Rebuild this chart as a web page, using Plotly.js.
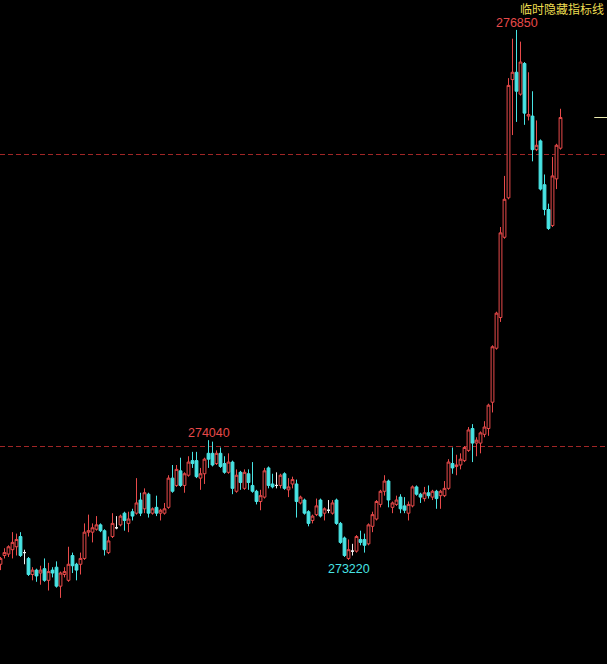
<!DOCTYPE html>
<html><head><meta charset="utf-8">
<script src="https://cdn.plot.ly/plotly-3.0.1.min.js"></script>
<style>html,body{margin:0;padding:0;background:#000;overflow:hidden}#chart{width:607px;height:664px}</style>
</head><body><div id="chart"></div>
<script>
const openP = [273190,273250,273260,273290,273310,273380,273270,273230,273120,273150,
273130,273160,273080,273150,273170,273040,273120,273080,273250,273190,
273190,273230,273410,273410,273430,273460,273420,273270,273380,273440,
273460,273540,273470,273550,273540,273630,273570,273670,273540,273580,
273540,273540,273580,273780,273730,273830,273730,273800,273900,273900,
273780,273810,273950,273950,273880,273950,273880,273820,273890,273690,
273820,273710,273810,273730,273690,273620,273650,273850,273740,273730,
273730,273810,273700,273740,273740,273610,273630,273550,273490,273530,
273630,273540,273560,273540,273630,273470,273370,273230,273280,273280,
273360,273360,273330,273450,273500,273600,273690,273760,273580,273600,
273650,273590,273540,273590,273720,273670,273640,273680,273650,273690,
273660,273660,273710,273880,273860,273870,273900,273970,274120,274020,
274020,274080,274120,274300,274670,274880,275430,275700,276510,276560,
276410,276620,276260,276260,276030,276090,275790,275620,275510,275830,
276040];
const highP = [273240,273300,273320,273410,273400,273410,273290,273240,273170,273160,
273180,273230,273200,273170,273210,273140,273170,273310,273270,273200,
273270,273470,273530,273470,273520,273470,273430,273380,273540,273520,
273530,273550,273550,273570,273780,273680,273710,273680,273580,273660,
273570,273610,273800,273870,273870,273920,273820,273930,273960,273960,
273850,273920,274040,274030,273970,273990,273930,273950,273900,273840,
273830,273840,273840,273890,273700,273700,273850,273860,273810,273820,
273810,273820,273780,273790,273770,273660,273640,273560,273530,273640,
273640,273580,273630,273630,273640,273480,273380,273360,273330,273390,
273420,273400,273470,273550,273630,273700,273800,273770,273620,273660,
273670,273650,273620,273730,273730,273680,273720,273730,273700,273700,
273700,273760,273910,273990,273940,273950,274000,274130,274150,274060,
274100,274170,274290,274690,274920,275500,275850,276520,276790,276850,
276770,276630,276560,276430,276230,276100,275860,275660,275980,276070,
276310];
const lowP = [273150,273230,273240,273230,273250,273240,273190,273110,273080,273070,
273050,273070,273010,273100,273030,272960,273100,273070,273130,273080,
273120,273220,273380,273340,273420,273410,273250,273260,273370,273430,
273450,273420,273410,273490,273530,273520,273540,273510,273530,273520,
273490,273530,273570,273680,273720,273720,273680,273790,273850,273780,
273700,273740,273850,273860,273870,273850,273810,273810,273670,273680,
273700,273700,273700,273680,273600,273560,273640,273710,273710,273710,
273710,273700,273650,273710,273510,273600,273530,273450,273470,273520,
273510,273490,273540,273530,273460,273330,273240,273220,273250,273270,
273320,273270,273320,273410,273490,273580,273660,273580,273540,273590,
273540,273540,273490,273580,273660,273610,273620,273640,273630,273570,
273570,273650,273700,273810,273800,273840,273890,273960,273890,273930,
273950,274060,274070,274230,274660,274850,275420,275690,276130,276220,
276400,276200,276230,275950,276020,275750,275580,275480,275500,275760,
276030];
const closeP = [273230,273270,273310,273340,273360,273250,273270,273120,273150,273110,
273150,273080,273140,273130,273040,273130,273140,273190,273180,273150,
273230,273410,273420,273440,273460,273420,273290,273350,273470,273440,
273520,273490,273500,273520,273610,273540,273680,273540,273570,273540,
273560,273570,273780,273690,273840,273730,273810,273890,273880,273790,
273810,273910,273910,273870,273950,273860,273820,273890,273710,273800,
273750,273820,273750,273690,273620,273660,273830,273730,273720,273730,
273800,273710,273720,273770,273620,273650,273540,273470,273520,273590,
273520,273570,273560,273610,273470,273340,273250,273290,273280,273380,
273340,273320,273460,273530,273620,273690,273760,273630,273610,273630,
273570,273560,273600,273720,273670,273650,273680,273660,273690,273640,
273690,273710,273890,273850,273870,273910,273990,274110,274020,274040,
274090,274130,274280,274680,274910,275460,275690,276470,276560,276430,
276630,276280,276270,276030,276060,275760,275620,275490,275850,276060,
276250];
const gridLevels = [274000, 276000];
const highLabelIdx = [129, 52];
const lowLabelIdx = [87];
const indicatorText = '临时隐藏指标线';

const RED = '#e84a4a', CYAN = '#48e4e4', WHITE = '#f0f0f0';
const idx = openP.map((_, i) => i);
function pick(cond) {
  const ids = idx.filter(cond);
  return {x: ids, open: ids.map(i => openP[i]), high: ids.map(i => highP[i]),
          low: ids.map(i => lowP[i]), close: ids.map(i => closeP[i])};
}
function candle(sel, lineCol, fill) {
  return Object.assign({type: 'candlestick', whiskerwidth: 0, hoverinfo: 'skip', showlegend: false,
    increasing: {line: {color: lineCol, width: 1}, fillcolor: fill},
    decreasing: {line: {color: lineCol, width: 1}, fillcolor: fill}}, sel);
}
const traces = [
  candle(pick(i => closeP[i] > openP[i]), RED, '#000000'),
  candle(pick(i => closeP[i] < openP[i]), CYAN, CYAN),
  candle(pick(i => closeP[i] === openP[i]), WHITE, WHITE)
];
const last = closeP.length - 1;
const annotations = [];
highLabelIdx.forEach(i => annotations.push({x: i, y: highP[i], xref: 'x', yref: 'y', text: String(highP[i]),
  showarrow: false, yanchor: 'bottom', xanchor: 'center', yshift: -2,
  font: {family: 'Liberation Sans, Arial, sans-serif', size: 12.5, color: RED}}));
lowLabelIdx.forEach(i => annotations.push({x: i, y: lowP[i], xref: 'x', yref: 'y', text: String(lowP[i]),
  showarrow: false, yanchor: 'top', xanchor: 'center', yshift: 0,
  font: {family: 'Liberation Sans, Arial, sans-serif', size: 12.5, color: CYAN}}));
annotations.push({x: 1, y: 1, xref: 'paper', yref: 'paper', text: indicatorText, showarrow: false,
  xanchor: 'right', yanchor: 'top', xshift: -2, yshift: 1, borderpad: 0,
  font: {family: 'Noto Sans CJK SC', size: 12, color: '#ecdc50'}});

const layout = {
  width: 607, height: 664, margin: {l: 0, r: 0, t: 0, b: 0},
  paper_bgcolor: '#000', plot_bgcolor: '#000', showlegend: false,
  boxgap: 0.3, boxgroupgap: 0,
  xaxis: {range: [-0.125, 151.625], showgrid: false, zeroline: false, showticklabels: false,
          ticks: '', showline: false, rangeslider: {visible: false}, fixedrange: true},
  yaxis: {range: [272507, 277055], tickvals: gridLevels, showgrid: true, gridcolor: '#a02626',
          griddash: '5px,3px', gridwidth: 1, showticklabels: false, zeroline: false, ticks: '',
          showline: false, fixedrange: true},
  shapes: [{type: 'line', xref: 'paper', x0: 0.979, x1: 1, yref: 'y', y0: closeP[last], y1: closeP[last],
            line: {color: '#eeeeb0', width: 1}}],
  annotations: annotations
};
Plotly.newPlot('chart', traces, layout, {displayModeBar: false, staticPlot: true});
</script>
</body></html>
